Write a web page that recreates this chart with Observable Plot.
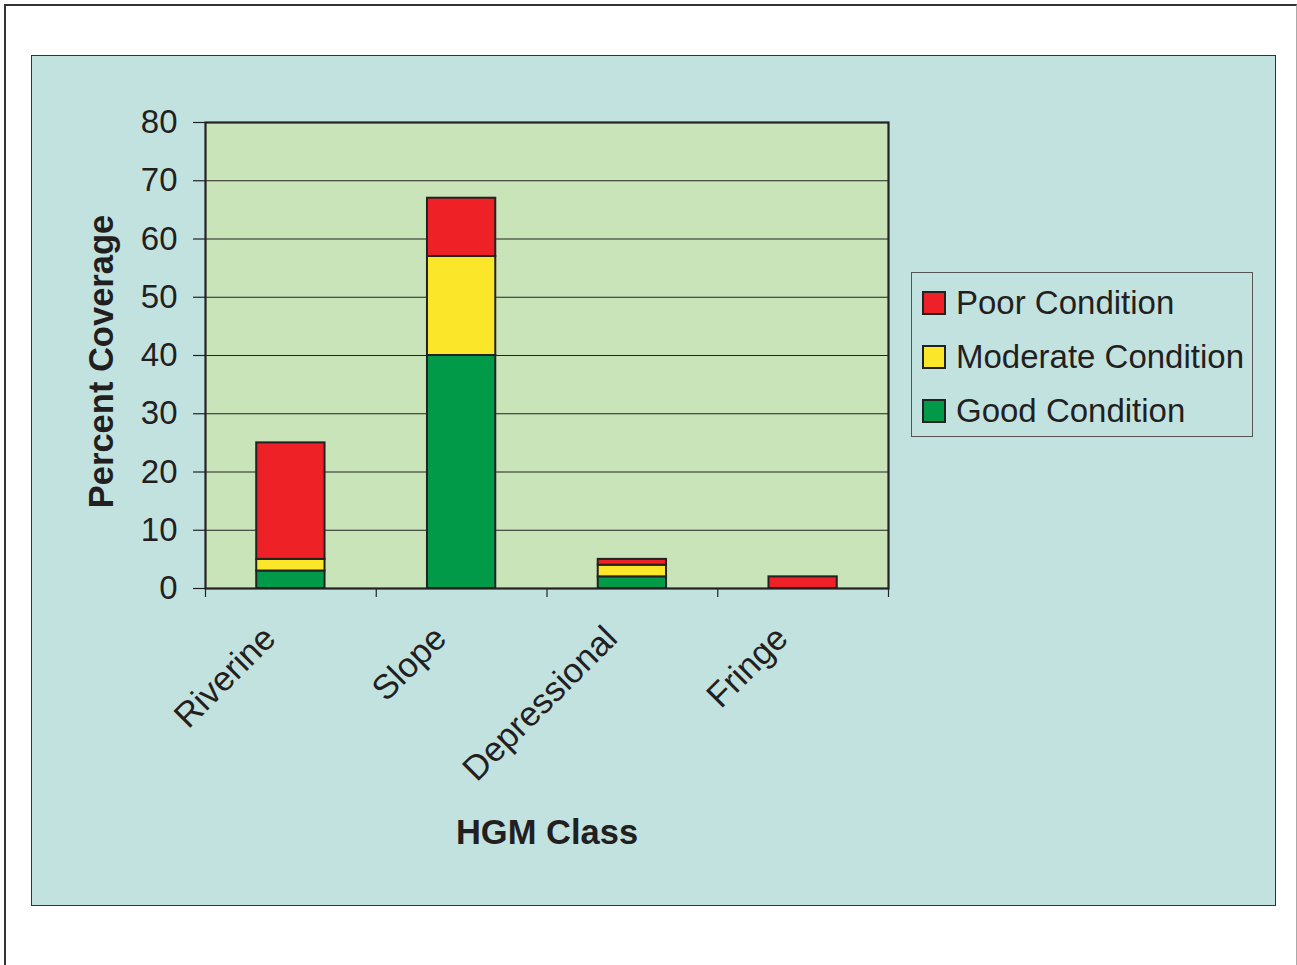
<!DOCTYPE html>
<html>
<head>
<meta charset="utf-8">
<script src="https://cdn.jsdelivr.net/npm/d3@7"></script>
<script src="https://cdn.jsdelivr.net/npm/@observablehq/plot@0.6"></script>
<style>
  html, body { margin: 0; padding: 0; background: #fff; }
  #page { position: relative; width: 1297px; height: 965px; overflow: hidden; font-family: "Liberation Sans", Arial, sans-serif; color: #231f20; }
  #frame { position: absolute; left: 4px; top: 4px; width: 1290px; height: 970px; border-left: 2px solid #333; border-top: 2px solid #333; border-right: 1.5px solid #aaa; }
  #panel { position: absolute; left: 31px; top: 55px; width: 1243px; height: 849px; background: #c2e2e0; border: 1.5px solid #333; }
  #chart { position: absolute; left: 0; top: 0; }
  #legend { position: absolute; left: 911px; top: 272px; width: 340px; height: 163px; border: 1px solid #555; background: #c2e2e0; }
  .row { position: absolute; left: 10px; height: 54px; display: flex; align-items: center; font-size: 33px; white-space: nowrap; }
  .sw { width: 20px; height: 20px; border: 2px solid #222; margin-right: 10px; }
</style>
</head>
<body>
<div id="page">
  <div id="frame"></div>
  <div id="panel"></div>
  <div id="chart"></div>
  <div id="legend"></div>
</div>
<script>
const classes = ["Riverine", "Slope", "Depressional", "Fringe"];
const conditions = ["Good Condition", "Moderate Condition", "Poor Condition"];
const good = [3, 40, 2, 0];
const moderate = [2, 17, 2, 0];
const poor = [20, 10, 1, 2];
const legendOrder = ["Poor Condition", "Moderate Condition", "Good Condition"];
const colors = ["#009a49", "#fbe62a", "#ee2127"];
const yTicks = [0, 10, 20, 30, 40, 50, 60, 70, 80];

const series = [good, moderate, poor];
const data = [];
conditions.forEach((c, j) => classes.forEach((k, i) => {
  if (series[j][i] > 0) data.push({hgm: k, condition: c, value: series[j][i]});
}));

const W = 1297, H = 965;
const mL = 205, mR = 409, mT = 122, mB = 377;
const step = (W - mL - mR) / classes.length;

const chart = Plot.plot({
  width: W, height: H,
  marginLeft: mL, marginRight: mR, marginTop: mT, marginBottom: mB,
  style: {background: "transparent", fontFamily: "Liberation Sans, Arial, sans-serif", color: "#231f20", overflow: "visible"},
  x: {domain: classes, padding: 0.6, paddingOuter: 0.3, round: false, axis: null},
  y: {domain: [0, 80], axis: null},
  color: {domain: conditions, range: colors},
  marks: [
    Plot.frame({fill: "#c9e4b8", stroke: null}),
    Plot.ruleY(yTicks.slice(1, -1), {stroke: "#222", strokeWidth: 1.2}),
    Plot.barY(data, {x: "hgm", y: "value", fill: "condition", stroke: "#222", strokeWidth: 2, order: conditions}),
    Plot.frame({stroke: "#222", strokeWidth: 2.2}),
    Plot.axisY({ticks: yTicks, tickSize: 12, tickPadding: 16, fontSize: 33, stroke: "#222", strokeWidth: 1.2, label: null, tickFormat: d => d}),
    Plot.ruleX(classes, {x: d => d, y1: 0, y2: -1.55, dx: -step / 2, stroke: "#222", strokeWidth: 1.2}),
    Plot.ruleX(classes.slice(-1), {x: d => d, y1: 0, y2: -1.55, dx: step / 2, stroke: "#222", strokeWidth: 1.2}),
    Plot.text(classes, {x: d => d, frameAnchor: "bottom", rotate: -45, textAnchor: "end", lineAnchor: "middle", dx: -21, dy: 44, fontSize: 34.5, fill: "#231f20"}),
    Plot.text(["Percent Coverage"], {frameAnchor: "left", rotate: -90, textAnchor: "middle", dx: -104, dy: 6, fontSize: 34.5, fontWeight: "bold", fill: "#231f20", lineAnchor: "middle"}),
    Plot.text(["HGM Class"], {frameAnchor: "bottom", dy: 244, fontSize: 34.5, fontWeight: "bold", fill: "#231f20", lineAnchor: "middle"})
  ]
});
document.getElementById("chart").appendChild(chart);

const legend = document.getElementById("legend");
legendOrder.forEach((c, i) => {
  const row = document.createElement("div");
  row.className = "row";
  row.style.top = (3 + i * 54) + "px";
  const sw = document.createElement("div");
  sw.className = "sw";
  sw.style.background = colors[conditions.indexOf(c)];
  const t = document.createElement("span");
  t.textContent = c;
  row.appendChild(sw); row.appendChild(t);
  legend.appendChild(row);
});
</script>
</body>
</html>
